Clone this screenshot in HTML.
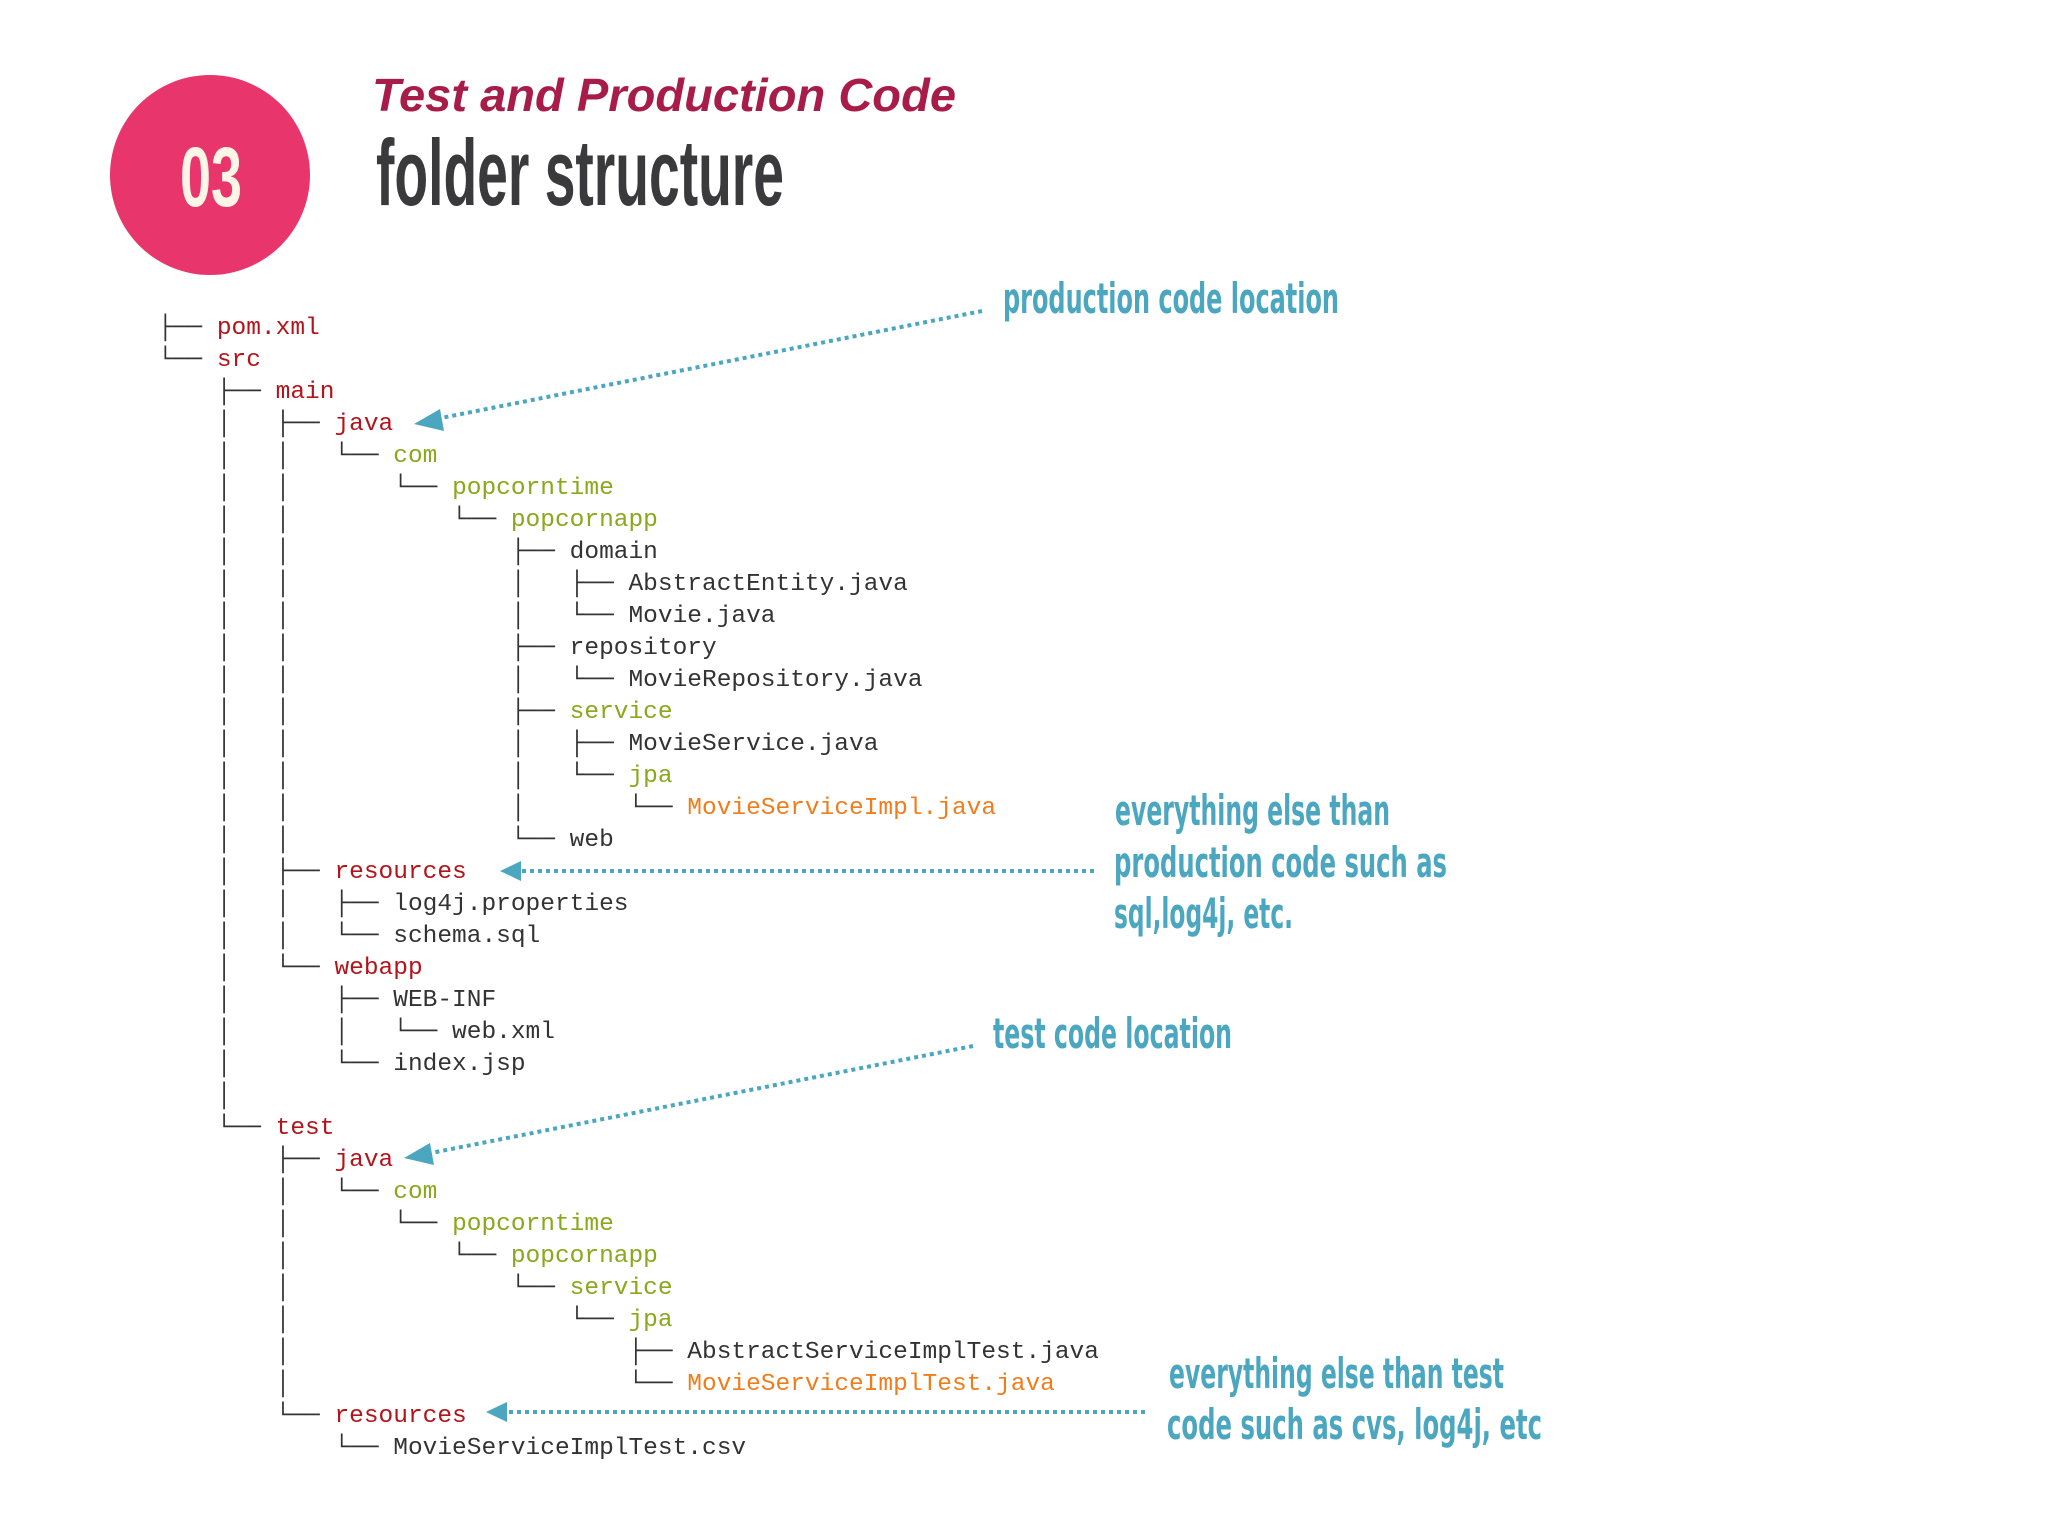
<!DOCTYPE html>
<html><head><meta charset="utf-8">
<style>
html,body{margin:0;padding:0;background:#fff;}
svg{display:block;}
.t{font-family:"Liberation Mono","DejaVu Sans Mono",monospace;font-size:24.5px;fill:#333;white-space:pre;}
.r{fill:#b3141c}.g{fill:#8aa81c}.o{fill:#f07d1c}
.a{font-family:"Liberation Sans Narrow","DejaVu Sans Condensed","Liberation Sans",sans-serif;font-weight:bold;font-size:42px;fill:#4ba6c0;}
</style></head><body>
<svg width="2048" height="1536" viewBox="0 0 2048 1536" xmlns="http://www.w3.org/2000/svg">
<circle cx="210" cy="175" r="100" fill="#e8356c"/>
<text x="180" y="206" font-family="Liberation Sans Narrow,Liberation Sans,sans-serif" font-weight="bold" font-size="84" fill="#fdf6e6" textLength="62" lengthAdjust="spacingAndGlyphs">03</text>
<text x="372" y="111" font-family="Liberation Sans,sans-serif" font-weight="bold" font-style="italic" font-size="46" fill="#a81c4a" textLength="584" lengthAdjust="spacingAndGlyphs">Test and Production Code</text>
<text x="376" y="205" font-family="Liberation Sans Narrow,Liberation Sans,sans-serif" font-weight="bold" font-size="94" fill="#3a3a3c" textLength="408" lengthAdjust="spacingAndGlyphs">folder structure</text>

<g class="t" xml:space="preserve">
<text xml:space="preserve" x="158" y="334">├── <tspan class="r">pom.xml</tspan></text>
<text xml:space="preserve" x="158" y="366">└── <tspan class="r">src</tspan></text>
<text xml:space="preserve" x="158" y="398">    ├── <tspan class="r">main</tspan></text>
<text xml:space="preserve" x="158" y="430">    │   ├── <tspan class="r">java</tspan></text>
<text xml:space="preserve" x="158" y="462">    │   │   └── <tspan class="g">com</tspan></text>
<text xml:space="preserve" x="158" y="494">    │   │       └── <tspan class="g">popcorntime</tspan></text>
<text xml:space="preserve" x="158" y="526">    │   │           └── <tspan class="g">popcornapp</tspan></text>
<text xml:space="preserve" x="158" y="558">    │   │               ├── domain</text>
<text xml:space="preserve" x="158" y="590">    │   │               │   ├── AbstractEntity.java</text>
<text xml:space="preserve" x="158" y="622">    │   │               │   └── Movie.java</text>
<text xml:space="preserve" x="158" y="654">    │   │               ├── repository</text>
<text xml:space="preserve" x="158" y="686">    │   │               │   └── MovieRepository.java</text>
<text xml:space="preserve" x="158" y="718">    │   │               ├── <tspan class="g">service</tspan></text>
<text xml:space="preserve" x="158" y="750">    │   │               │   ├── MovieService.java</text>
<text xml:space="preserve" x="158" y="782">    │   │               │   └── <tspan class="g">jpa</tspan></text>
<text xml:space="preserve" x="158" y="814">    │   │               │       └── <tspan class="o">MovieServiceImpl.java</tspan></text>
<text xml:space="preserve" x="158" y="846">    │   │               └── web</text>
<text xml:space="preserve" x="158" y="878">    │   ├── <tspan class="r">resources</tspan></text>
<text xml:space="preserve" x="158" y="910">    │   │   ├── log4j.properties</text>
<text xml:space="preserve" x="158" y="942">    │   │   └── schema.sql</text>
<text xml:space="preserve" x="158" y="974">    │   └── <tspan class="r">webapp</tspan></text>
<text xml:space="preserve" x="158" y="1006">    │       ├── WEB-INF</text>
<text xml:space="preserve" x="158" y="1038">    │       │   └── web.xml</text>
<text xml:space="preserve" x="158" y="1070">    │       └── index.jsp</text>
<text xml:space="preserve" x="158" y="1102">    │</text>
<text xml:space="preserve" x="158" y="1134">    └── <tspan class="r">test</tspan></text>
<text xml:space="preserve" x="158" y="1166">        ├── <tspan class="r">java</tspan></text>
<text xml:space="preserve" x="158" y="1198">        │   └── <tspan class="g">com</tspan></text>
<text xml:space="preserve" x="158" y="1230">        │       └── <tspan class="g">popcorntime</tspan></text>
<text xml:space="preserve" x="158" y="1262">        │           └── <tspan class="g">popcornapp</tspan></text>
<text xml:space="preserve" x="158" y="1294">        │               └── <tspan class="g">service</tspan></text>
<text xml:space="preserve" x="158" y="1326">        │                   └── <tspan class="g">jpa</tspan></text>
<text xml:space="preserve" x="158" y="1358">        │                       ├── AbstractServiceImplTest.java</text>
<text xml:space="preserve" x="158" y="1390">        │                       └── <tspan class="o">MovieServiceImplTest.java</tspan></text>
<text xml:space="preserve" x="158" y="1422">        └── <tspan class="r">resources</tspan></text>
<text xml:space="preserve" x="158" y="1454">            └── MovieServiceImplTest.csv</text>
</g>

<g stroke="#4ba6c0" stroke-width="4" stroke-dasharray="4 4" fill="none">
<line x1="982" y1="311" x2="436" y2="419"/>
<line x1="1094" y1="871" x2="520" y2="871"/>
<line x1="973" y1="1046" x2="426" y2="1154"/>
<line x1="1145" y1="1412" x2="506" y2="1412"/>
</g>
<g fill="#4ba6c0">
<polygon points="414,424 440,409 444,431"/>
<polygon points="500,871 521,861 521,881"/>
<polygon points="404,1158 430,1143 434,1165"/>
<polygon points="486,1412 507,1402 507,1422"/>
</g>

<g class="a">
<text x="1003" y="313" textLength="336" lengthAdjust="spacingAndGlyphs">production code location</text>
<text x="1115" y="825" textLength="275" lengthAdjust="spacingAndGlyphs">everything else than</text>
<text x="1114" y="877" textLength="333" lengthAdjust="spacingAndGlyphs">production code such as</text>
<text x="1114" y="928" textLength="179" lengthAdjust="spacingAndGlyphs">sql,log4j, etc.</text>
<text x="993" y="1048" textLength="239" lengthAdjust="spacingAndGlyphs">test code location</text>
<text x="1169" y="1388" textLength="335" lengthAdjust="spacingAndGlyphs">everything else than test</text>
<text x="1167" y="1439" textLength="375" lengthAdjust="spacingAndGlyphs">code such as cvs, log4j, etc</text>
</g>
</svg>
</body></html>
